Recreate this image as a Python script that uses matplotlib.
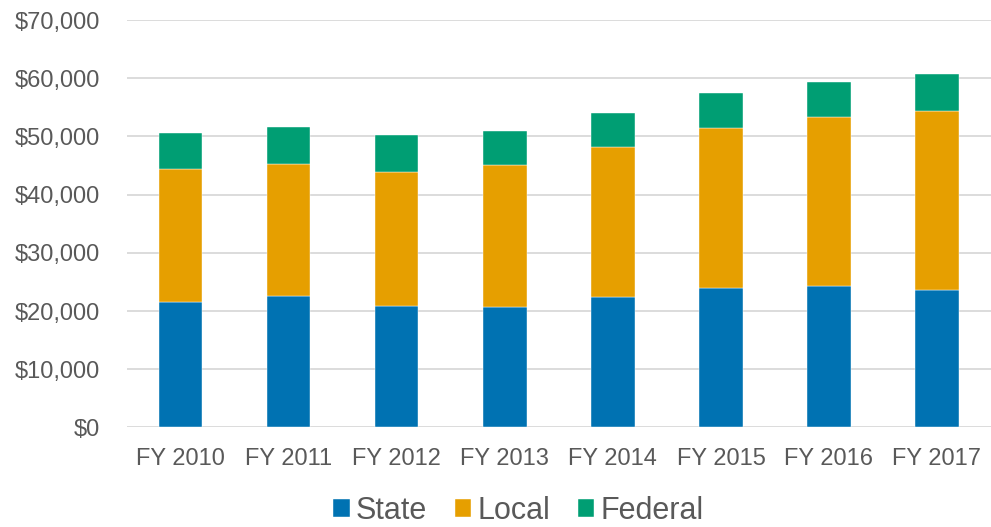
import matplotlib
matplotlib.use("Agg")
import matplotlib.pyplot as plt
import numpy as np
from matplotlib.ticker import FuncFormatter, MultipleLocator

categories = ["FY 2010", "FY 2011", "FY 2012", "FY 2013", "FY 2014", "FY 2015", "FY 2016", "FY 2017"]
state = [21570, 22600, 20880, 20700, 22430, 23920, 24320, 23680]
local = [22830, 22720, 23060, 24330, 25810, 27540, 28970, 30710]
federal = [6250, 6310, 6370, 5850, 5860, 6080, 6140, 6300]

colors = {"State": "#0072B2", "Local": "#E69F00", "Federal": "#009E73"}
plt.rcParams['font.family'] = ['Liberation Sans', 'DejaVu Sans']
text_color = "#595959"

fig = plt.figure(figsize=(9.91, 5.27), dpi=100)
ax = fig.add_axes([0.128, 0.189, 0.872, 0.773])

x = np.arange(len(categories))
w = 0.4
s = np.array(state); l = np.array(local); f = np.array(federal)
ax.bar(x, s, w, color=colors["State"], label="State", zorder=3, edgecolor="#ffffff", linewidth=0.3)
ax.bar(x, l, w, bottom=s, color=colors["Local"], label="Local", zorder=3, edgecolor="#ffffff", linewidth=0.3)
ax.bar(x, f, w, bottom=s + l, color=colors["Federal"], label="Federal", zorder=3, edgecolor="#ffffff", linewidth=0.3)

ax.set_xlim(-0.5, len(categories) - 0.5)
ax.set_ylim(0, 70000)
ax.yaxis.set_major_locator(MultipleLocator(10000))
ax.yaxis.set_major_formatter(FuncFormatter(lambda v, p: f"${v:,.0f}"))
ax.set_xticks(x)
ax.set_xticklabels(categories)
ax.grid(axis="y", color="#D9D9D9", linewidth=1.3, zorder=0)
ax.set_axisbelow(True)
for sp in ax.spines.values():
    sp.set_visible(False)
ax.tick_params(axis="both", length=0, labelsize=17, colors=text_color)
ax.tick_params(axis="y", pad=19)
ax.tick_params(axis="x", pad=15)

leg = fig.legend(loc="center", bbox_to_anchor=(0.523, 0.031), ncol=3, frameon=False,
                 fontsize=22, handlelength=0.55, handleheight=0.55, handletextpad=0.2,
                 columnspacing=0.9, borderaxespad=0, borderpad=0)
for t in leg.get_texts():
    t.set_color(text_color)

fig.savefig("out.png", dpi=100)
